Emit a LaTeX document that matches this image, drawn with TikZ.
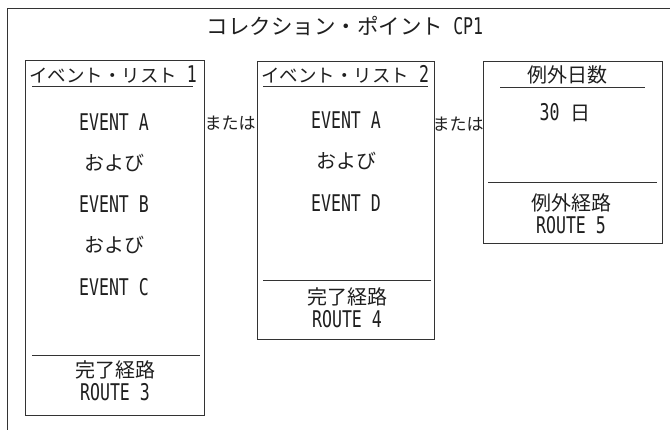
\documentclass[tikz,border=0pt]{standalone}
\usepackage{fontspec}
\setmainfont{Noto Sans CJK JP}
\newfontfamily\latf[FakeStretch=0.72]{DejaVu Sans Mono}
\newcommand\jpt{\fontsize{20}{22}\selectfont}
\newcommand\hdt{\fontsize{18.5}{20}\selectfont}
\newcommand\lat[1]{{\latf\fontsize{23}{24}\selectfont #1}}
\tikzset{
  frame/.style={draw=black!80, line width=0.9pt},
  rule/.style={draw=black!80, line width=0.9pt},
  txt/.style={inner sep=0pt, font=\jpt, text=black!88, anchor=center},
  htxt/.style={txt, font=\hdt},
  ltxt/.style={inner sep=0pt, font=\latf\fontsize{23}{24}\selectfont, text=black!88, anchor=center},
}
\begin{document}
\begin{tikzpicture}[x=1pt,y=-1pt]
\useasboundingbox (0,0) rectangle (670,434);
% outer frame (cut off)
\coordinate (ftr) at (670,8);
\coordinate (ftl) at (7,8);
\coordinate (fbl) at (7,430);
\draw[frame] (ftr) -- (ftl) -- (fbl);
\node[txt, font=\fontsize{21.5}{24}\selectfont] (title) at (345,26) {コレクション・ポイント\lat{~CP1}};

% box 1
\node[frame, minimum width=179pt, minimum height=355pt, inner sep=0pt] (b1) at (114.5,237.5) {};
\node[htxt] (h1) at (113,74) {イベント・リスト\lat{~1}};
\coordinate (u1a) at (32,86); \coordinate (u1b) at (193,86);
\draw[rule] (u1a) -- (u1b);
\node[ltxt] (e1a) at (114,122) {EVENT A};
\node[txt] (o1a) at (114,163) {および};
\node[ltxt] (e1b) at (114,204) {EVENT B};
\node[txt] (o1b) at (114,245) {および};
\node[ltxt] (e1c) at (114,287) {EVENT C};
\coordinate (s1a) at (32,355); \coordinate (s1b) at (200,355);
\draw[rule] (s1a) -- (s1b);
\node[txt] (k1) at (115,370) {完了経路};
\node[ltxt] (r1) at (115,392) {ROUTE 3};

% または 1
\node[txt, font=\fontsize{17}{20}\selectfont] (or1) at (230,123) {または};

% box 2
\node[frame, minimum width=177pt, minimum height=278pt, inner sep=0pt] (b2) at (345.5,200) {};
\node[htxt] (h2) at (345,74) {イベント・リスト\lat{~2}};
\coordinate (u2a) at (263,86); \coordinate (u2b) at (428,86);
\draw[rule] (u2a) -- (u2b);
\node[ltxt] (e2a) at (346,120) {EVENT A};
\node[txt] (o2a) at (346,161) {および};
\node[ltxt] (e2d) at (346,203) {EVENT D};
\coordinate (s2a) at (263,280); \coordinate (s2b) at (431,280);
\draw[rule] (s2a) -- (s2b);
\node[txt] (k2) at (347,297) {完了経路};
\node[ltxt] (r2) at (347,319) {ROUTE 4};

% または 2
\node[txt, font=\fontsize{17}{20}\selectfont] (or2) at (458,124) {または};

% box 3
\node[frame, minimum width=179pt, minimum height=182pt, inner sep=0pt] (b3) at (572.5,152) {};
\node[txt] (h3) at (567,75) {例外日数};
\coordinate (u3a) at (500,87); \coordinate (u3b) at (645,87);
\draw[rule] (u3a) -- (u3b);
\node[txt] (d3) at (565,113) {\lat{30}\hspace{11pt}日};
\coordinate (s3a) at (488,182); \coordinate (s3b) at (657,182);
\draw[rule] (s3a) -- (s3b);
\node[txt] (k3) at (571,203) {例外経路};
\node[ltxt] (r3) at (571,225) {ROUTE 5};
\end{tikzpicture}
\end{document}
